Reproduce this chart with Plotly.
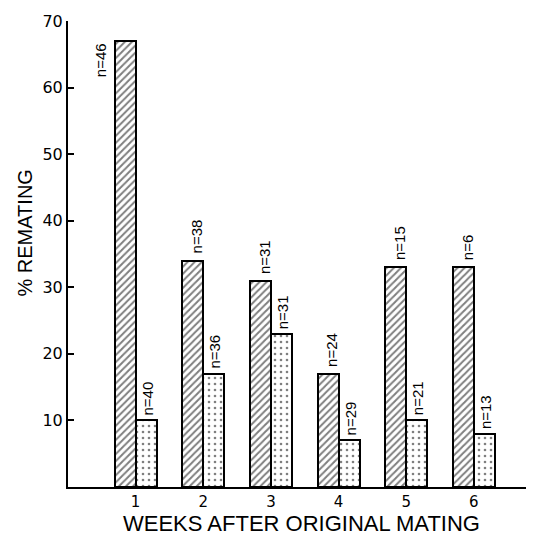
import plotly.graph_objects as go

weeks = [1, 2, 3, 4, 5, 6]
week_labels = ["1", "2", "3", "4", "5", "6"]
hatched_pct = [67, 34, 31, 17, 33, 33]
dotted_pct = [10, 17, 23, 7, 10, 8]
hatched_n = [46, 38, 31, 24, 15, 6]
dotted_n = [40, 36, 31, 29, 21, 13]
y_ticks = [10, 20, 30, 40, 50, 60, 70]

BW = 0.31
fig = go.Figure()
fig.add_trace(go.Bar(
    x=weeks, y=hatched_pct, width=BW, offset=-BW,
    marker=dict(color="white", line=dict(color="black", width=2),
                pattern=dict(shape="/", size=5, solidity=0.4, fgcolor="black", bgcolor="white")),
    showlegend=False,
))
fig.add_trace(go.Bar(
    x=weeks, y=dotted_pct, width=BW, offset=0,
    marker=dict(color="white", line=dict(color="black", width=2),
                pattern=dict(shape=".", size=6, solidity=0.15, fgcolor="black", bgcolor="white")),
    showlegend=False,
))

lab_font = dict(family="Liberation Sans", size=15, color="black")
for i, w in enumerate(weeks):
    if i == 0:
        fig.add_annotation(x=w - BW, y=hatched_pct[i], text=f"n={hatched_n[i]}", textangle=-90,
                           xanchor="right", yanchor="top", xshift=-3, showarrow=False, font=lab_font)
    else:
        fig.add_annotation(x=w - BW / 2, y=hatched_pct[i], text=f"n={hatched_n[i]}", textangle=-90,
                           xanchor="center", yanchor="bottom", xshift=4, yshift=5, showarrow=False, font=lab_font)
    fig.add_annotation(x=w + BW / 2, y=dotted_pct[i], text=f"n={dotted_n[i]}", textangle=-90,
                       xanchor="center", yanchor="bottom", xshift=1, yshift=3, showarrow=False, font=lab_font)

# page body has an 8px default margin, so the figure is sized 8px smaller
fig.add_annotation(xref="paper", yref="paper", x=0.505, y=-0.079, text="WEEKS AFTER ORIGINAL MATING",
                   showarrow=False, xanchor="center", yanchor="middle",
                   font=dict(family="Liberation Sans", size=22, color="black"))
fig.add_annotation(xref="paper", yref="paper", x=-0.092, y=0.545, text="% REMATING", textangle=-90,
                   showarrow=False, xanchor="center", yanchor="middle",
                   font=dict(family="Liberation Sans", size=20, color="black"))

fig.update_layout(
    width=526, height=529,
    margin=dict(l=60, r=4, t=7, b=50),
    plot_bgcolor="white", paper_bgcolor="white",
    bargap=0,
    xaxis=dict(range=[0, 6.83], tickvals=weeks, ticktext=week_labels, showline=True, linecolor="black",
               linewidth=2, showgrid=False, zeroline=False, ticks="", ticklabelstandoff=0,
               tickfont=dict(family="DejaVu Sans", size=15, color="black")),
    yaxis=dict(range=[0, 70], tickvals=y_ticks, showline=True, linecolor="black", linewidth=2,
               showgrid=False, zeroline=False, ticks="inside", ticklen=6, tickwidth=1.5, tickcolor="black",
               ticklabeloverflow="allow",
               tickfont=dict(family="DejaVu Sans", size=16, color="black")),
)

fig.write_html("out.html")
